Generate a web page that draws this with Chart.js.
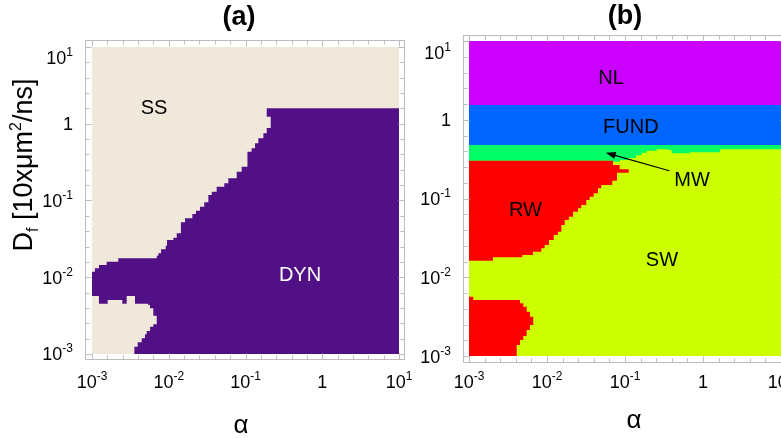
<!DOCTYPE html>
<html>
<head>
<meta charset="utf-8">
<script src="https://cdn.jsdelivr.net/npm/chart.js@4.4.1/dist/chart.umd.min.js"></script>
<style>
  html, body { margin: 0; padding: 0; background: #fff; overflow: hidden; }
  #wrap { position: relative; width: 781px; height: 438px; overflow: hidden; }
  canvas { position: absolute; top: 0; }
  #cA { left: 0; }
  #cB { left: 418px; }
</style>
</head>
<body>
<div id="wrap">
  <canvas id="cA" width="418" height="438"></canvas>
  <canvas id="cB" width="382" height="438"></canvas>
</div>
<script>
// * axis ticks (both panels, both axes)
const tickValues = [1e-3, 1e-2, 1e-1, 1, 10];
const tickBase = ["10", "10", "10", "1", "10"];
const tickExp = ["-3", "-2", "-1", "", "1"];
const minorPerDecade = 5;

// * panel (a) : SS background, DYN region outline (alpha, Df)
const ssAlpha = [1e-3, 10, 10, 1e-3];
const ssDf = [1e-3, 1e-3, 10, 10];
const dynAlpha = [10, 10, 3.56e-3, 3.56e-3, 3.94e-3, 4.44e-3, 4.9e-3, 5.16e-3, 5.7e-3, 6.29e-3,
  6.97e-3, 6.29e-3, 5.7e-3, 5.41e-3, 3.63e-3, 2.83e-3, 2.48e-3, 1.6e-3, 1.23e-3, 1e-3,
  1e-3, 1.09e-3, 1.23e-3, 1.55e-3, 2.2e-3, 6.97e-3, 7.31e-3, 7.93e-3, 9.12e-3, 9.49e-3,
  1.15e-2, 1.27e-2, 1.44e-2, 1.63e-2, 2.03e-2, 2.26e-2, 2.55e-2, 2.9e-2, 3.28e-2, 3.63e-2,
  4.21e-2, 5.29e-2, 5.97e-2, 7.68e-2, 8.92e-2, 0.106, 0.12, 0.133, 0.147, 0.171,
  0.189, 0.213, 0.189];
const dynDf = [1.59, 1e-3, 1e-3, 1.245e-3, 1.42e-3, 1.6e-3, 1.81e-3, 1.99e-3, 2.27e-3, 2.44e-3,
  3.16e-3, 3.94e-3, 4.35e-3, 4.52e-3, 5.7e-3, 4.52e-3, 5.05e-3, 4.52e-3, 5.7e-3, 5.7e-3,
  1.18e-2, 1.31e-2, 1.44e-2, 1.59e-2, 1.77e-2, 1.91e-2, 2.05e-2, 2.31e-2, 2.58e-2, 3.06e-2,
  3.28e-2, 3.74e-2, 5.2e-2, 5.86e-2, 6.67e-2, 7.36e-2, 8.3e-2, 9.47e-2, 0.118, 0.13,
  0.151, 0.168, 0.195, 0.237, 0.276, 0.432, 0.479, 0.556, 0.646, 0.751,
  0.88, 1.235, 1.59];

// * panel (b) : NL, FUND, MW, RW (two parts), SW
const nlAlpha = [1e-3, 10, 10, 1e-3];
const nlDf = [1.54, 1.54, 10, 10];
const fundAlpha = [1e-3, 10, 10, 1e-3];
const fundDf = [0.478, 0.478, 1.54, 1.54];
const swAlpha = [1e-3, 10, 10, 1e-3];
const swDf = [1e-3, 1e-3, 0.478, 0.478];
const mwAlpha = [1e-3, 10, 10, 1.652, 0.6816, 0.3971, 0.3558, 0.2549, 0.1897, 0.1637,
  0.1384, 0.1093, 0.0863, 0.0675, 1e-3];
const mwDf = [0.478, 0.478, 0.4214, 0.3861, 0.3749, 0.4129, 0.4214, 0.4046, 0.3815, 0.3535,
  0.327, 0.308, 0.293, 0.302, 0.302];
const rwUpAlpha = [1e-3, 0.0702, 0.0702, 0.0855, 0.1116, 0.079, 0.0687, 0.0497, 0.0451, 0.0397,
  0.0353, 0.0319, 0.0275, 0.025, 0.0216, 0.0191, 0.0169, 0.0153, 0.0138, 0.0122,
  0.0106, 0.00934, 0.00845, 0.00661, 0.00483, 0.00203, 1e-3];
const rwUpDf = [0.302, 0.302, 0.2663, 0.2348, 0.2126, 0.1683, 0.1484, 0.1348, 0.1164, 0.1054,
  0.0957, 0.0827, 0.0751, 0.068, 0.0587, 0.0533, 0.0461, 0.0379, 0.0344, 0.0297,
  0.0257, 0.0233, 0.0211, 0.0192, 0.0179, 0.0162, 0.0147];
const rwLowAlpha = [1e-3, 1.135e-3, 4.51e-3, 4.97e-3, 5.49e-3, 6.05e-3, 6.67e-3, 6.05e-3, 5.49e-3,
  4.97e-3, 4.51e-3, 4.09e-3, 1e-3];
const rwLowDf = [5.66e-3, 5.14e-3, 4.67e-3, 4.23e-3, 3.65e-3, 3.16e-3, 2.48e-3, 2.14e-3, 1.79e-3,
  1.6e-3, 1.38e-3, 1e-3, 1e-3];

// * region names and where they sit (alpha, Df)
const namesA = ["SS", "DYN"];
const namesAAlpha = [6.42e-3, 0.513];
const namesADf = [1.6, 0.0104];
const namesB = ["NL", "FUND", "MW", "RW", "SW"];
const namesBAlpha = [0.0662, 0.119, 0.723, 5.3e-3, 0.298];
const namesBDf = [3.39, 0.809, 0.1717, 0.0704, 0.01656];
const mwArrowFrom = [0.37, 0.2254];
const mwArrowTo = [0.0566, 0.3815];

const FONT = (s, b) => (b ? "bold " : "") + s + 'px "Liberation Sans", Arial, sans-serif';

// draw text pieces one after another (for sub/superscripts)
function runs(ctx, parts, x, y, align) {
  let w = 0;
  parts.forEach((p) => {
    ctx.font = p.f;
    p.w = ctx.measureText(p.t).width;
    w += p.w;
  });
  let cx = align === "center" ? x - w / 2 : align === "right" ? x - w : x;
  parts.forEach((p) => {
    ctx.font = p.f;
    ctx.fillText(p.t, cx, y + (p.dy || 0));
    cx += p.w;
  });
}

const decor = {
  id: "decor",
  afterDraw(chart, args, o) {
    const { ctx, chartArea: a } = chart;
    const x = chart.scales.x;
    const y = chart.scales.y;
    ctx.save();

    // frame + inward ticks
    const L = Math.round(a.left) + 0.5, R = Math.round(a.right) - 0.5;
    const T = Math.round(a.top) + 0.5, B = Math.round(a.bottom) - 0.5;
    ctx.strokeStyle = "#bdbdbd";
    ctx.lineWidth = 1;
    ctx.strokeRect(L, T, R - L, B - T);
    ctx.beginPath();
    const k0 = Math.round(Math.log10(tickValues[0]) * minorPerDecade);
    const k1 = Math.round(Math.log10(tickValues[tickValues.length - 1]) * minorPerDecade);
    for (let k = k0; k <= k1; k++) {
      const v = Math.pow(10, k / minorPerDecade);
      const len = k % minorPerDecade === 0 ? 6 : 4;
      const px = Math.round(x.getPixelForValue(v)) + 0.5;
      const py = Math.round(y.getPixelForValue(v)) + 0.5;
      ctx.moveTo(px, B); ctx.lineTo(px, B - len);
      ctx.moveTo(px, T); ctx.lineTo(px, T + len);
      ctx.moveTo(L, py); ctx.lineTo(L + len, py);
      ctx.moveTo(R, py); ctx.lineTo(R - len, py);
    }
    ctx.stroke();

    // tick labels
    ctx.fillStyle = "#000";
    ctx.textAlign = "left";
    ctx.textBaseline = "alphabetic";
    tickValues.forEach((v, i) => {
      const parts = [{ t: tickBase[i], f: FONT(18) }, { t: tickExp[i], f: FONT(12), dy: -8 }];
      runs(ctx, parts, x.getPixelForValue(v), o.xLabelBase, "center");
      const cy = Math.max(y.getPixelForValue(v), a.top + 17);
      runs(ctx, parts, a.left - 12, cy + 6.5, "right");
    });

    // panel title and x title
    ctx.textAlign = "center";
    ctx.textBaseline = "middle";
    ctx.font = FONT(27, true);
    ctx.fillText(o.title, o.titlePos[0], o.titlePos[1]);
    ctx.font = FONT(26);
    ctx.fillText("α", o.alphaPos[0], o.alphaPos[1]);

    // y title (panel a only)
    if (o.yTitle) {
      ctx.save();
      ctx.translate(o.yTitle[0], o.yTitle[1]);
      ctx.rotate(-Math.PI / 2);
      ctx.textAlign = "left";
      ctx.textBaseline = "alphabetic";
      runs(ctx, [
        { t: "D", f: FONT(27) },
        { t: "f", f: FONT(16), dy: 6 },
        { t: " [10xμm", f: FONT(27) },
        { t: "2", f: FONT(16), dy: -11 },
        { t: "/ns]", f: FONT(27) },
      ], 0, 10, "center");
      ctx.restore();
    }

    // region names
    ctx.textAlign = "center";
    ctx.textBaseline = "middle";
    ctx.font = FONT(20);
    o.names.forEach((n, i) => {
      ctx.fillStyle = o.nameColors[i];
      ctx.fillText(n, x.getPixelForValue(o.namesAlpha[i]), y.getPixelForValue(o.namesDf[i]));
    });

    // arrow to the thin MW band
    if (o.arrow) {
      const x0 = x.getPixelForValue(o.arrow.from[0]), y0 = y.getPixelForValue(o.arrow.from[1]);
      const x1 = x.getPixelForValue(o.arrow.to[0]), y1 = y.getPixelForValue(o.arrow.to[1]);
      const ang = Math.atan2(y1 - y0, x1 - x0);
      const c = Math.cos(ang), s = Math.sin(ang);
      ctx.strokeStyle = "#000";
      ctx.fillStyle = "#000";
      ctx.lineWidth = 1.2;
      ctx.beginPath();
      ctx.moveTo(x0, y0);
      ctx.lineTo(x1 - 6 * c, y1 - 6 * s);
      ctx.stroke();
      ctx.beginPath();
      ctx.moveTo(x1, y1);
      ctx.lineTo(x1 - 10 * c + 3.5 * s, y1 - 10 * s - 3.5 * c);
      ctx.lineTo(x1 - 10 * c - 3.5 * s, y1 - 10 * s + 3.5 * c);
      ctx.closePath();
      ctx.fill();
    }
    ctx.restore();
  },
};

function polygon(al, df) {
  return al.map((v, i) => ({ x: v, y: df[i] }));
}

// layers are given bottom first; chart.js draws dataset 0 last (on top)
function makePanel(id, layers, pad, xr, yr, deco) {
  return new Chart(document.getElementById(id), {
    type: "scatter",
    data: {
      datasets: layers.slice().reverse().map((l) => ({
        data: polygon(l.alpha, l.df),
        showLine: true,
        stepped: true,
        fill: "shape",
        backgroundColor: l.color,
        borderColor: "rgba(0,0,0,0)",
        borderWidth: 0,
        pointRadius: 0,
      })),
    },
    options: {
      responsive: false,
      animation: false,
      events: [],
      layout: { padding: pad },
      scales: {
        x: { type: "logarithmic", min: xr[0], max: xr[1], display: false },
        y: { type: "logarithmic", min: yr[0], max: yr[1], display: false },
      },
      plugins: { legend: { display: false }, tooltip: { enabled: false }, decor: deco },
    },
    plugins: [decor],
  });
}

makePanel("cA", [
  { alpha: ssAlpha, df: ssDf, color: "#f0e8da" },
  { alpha: dynAlpha, df: dynDf, color: "#521086" },
], { left: 85, right: 13, top: 40, bottom: 78 }, [8.1e-4, 11.97], [8.35e-4, 12.34], {
  title: "(a)", titlePos: [239, 18], alphaPos: [241, 426], xLabelBase: 388, yTitle: [22, 165],
  names: namesA, namesAlpha: namesAAlpha, namesDf: namesADf, nameColors: ["#000", "#fff"],
});

makePanel("cB", [
  { alpha: swAlpha, df: swDf, color: "#ccff00" },
  { alpha: mwAlpha, df: mwDf, color: "#00ff66" },
  { alpha: rwUpAlpha, df: rwUpDf, color: "#ff0000" },
  { alpha: rwLowAlpha, df: rwLowDf, color: "#ff0000" },
  { alpha: fundAlpha, df: fundDf, color: "#0066ff" },
  { alpha: nlAlpha, df: nlDf, color: "#cc00ff" },
], { left: 45, right: 13, top: 35, bottom: 75 }, [8.38e-4, 11.94], [8.15e-4, 11.92], {
  title: "(b)", titlePos: [207, 17], alphaPos: [216, 421], xLabelBase: 388,
  names: namesB, namesAlpha: namesBAlpha, namesDf: namesBDf,
  nameColors: ["#000", "#000", "#000", "#000", "#000"],
  arrow: { from: mwArrowFrom, to: mwArrowTo },
});
</script>
</body>
</html>
